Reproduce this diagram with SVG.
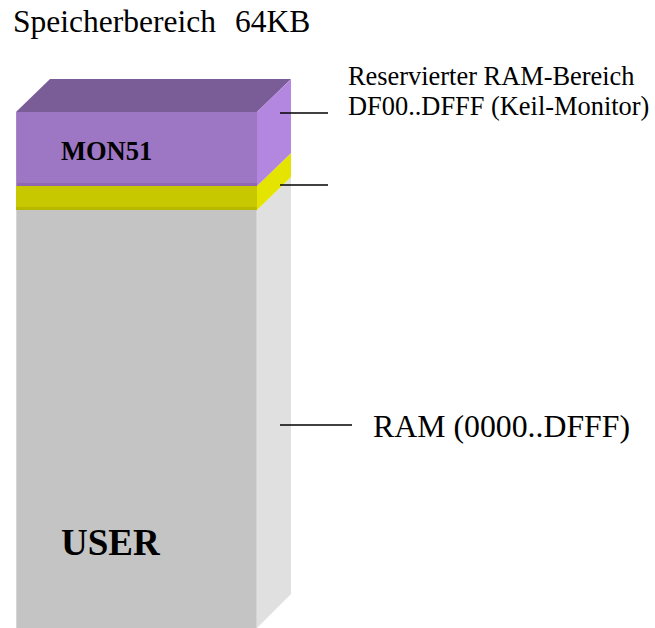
<svg xmlns="http://www.w3.org/2000/svg" width="655" height="628" viewBox="0 0 655 628">
<style>
.t{font-family:"Liberation Serif","Times New Roman",serif;fill:#000}
.b{font-weight:bold}
.ln{stroke:#000;stroke-width:1.5;fill:none}
</style>
<rect width="655" height="628" fill="#fff"/>
<text class="t" x="13" y="32" font-size="31.5">Speicherbereich<tspan x="235">64KB</tspan></text>
<g id="user">
<rect x="16" y="210" width="241" height="420" fill="#c4c4c4"/>
<polygon points="257,210 291,177 291,594 257,628" fill="#e0e0e0"/>
<line x1="16.5" y1="210" x2="16.5" y2="628" stroke="#d6d6d6" stroke-width="1"/>
<line x1="256.5" y1="210" x2="256.5" y2="628" stroke="#d4d4d4" stroke-width="1"/>
<text class="t b" x="61" y="555" font-size="37">USER</text>
</g>
<g id="reserved">
<rect x="16" y="186" width="241" height="24" fill="#c8c800"/>
<rect x="16" y="207" width="241" height="3" fill="#b8b800"/>
<polygon points="257,186 291,153 291,177 257,210" fill="#e4e400"/>
</g>
<g id="mon51">
<polygon points="16,112 50,79 291,79 257,112" fill="#7a5c96"/>
<rect x="16" y="112" width="241" height="74" fill="#9d76c4"/>
<rect x="16" y="183" width="241" height="3" fill="#9068b0"/>
<polygon points="257,112 291,79 291,153 257,186" fill="#b386e0"/>
<line x1="16.5" y1="112" x2="16.5" y2="186" stroke="#a888c8" stroke-width="1"/>
<text class="t b" x="61" y="160" font-size="26.5">MON51</text>
</g>
<g id="connectors">
<line class="ln" x1="280" y1="113" x2="328" y2="113"/>
<line class="ln" x1="280" y1="185" x2="328" y2="185"/>
<line class="ln" x1="280" y1="425" x2="352" y2="425"/>
</g>
<g id="labels">
<text class="t" x="348" y="85" font-size="26.4">Reservierter RAM-Bereich</text>
<text class="t" x="348" y="115" font-size="26.4">DF00..DFFF (Keil-Monitor)</text>
<text class="t" x="373" y="437" font-size="31.8">RAM (0000..DFFF)</text>
</g>
</svg>
